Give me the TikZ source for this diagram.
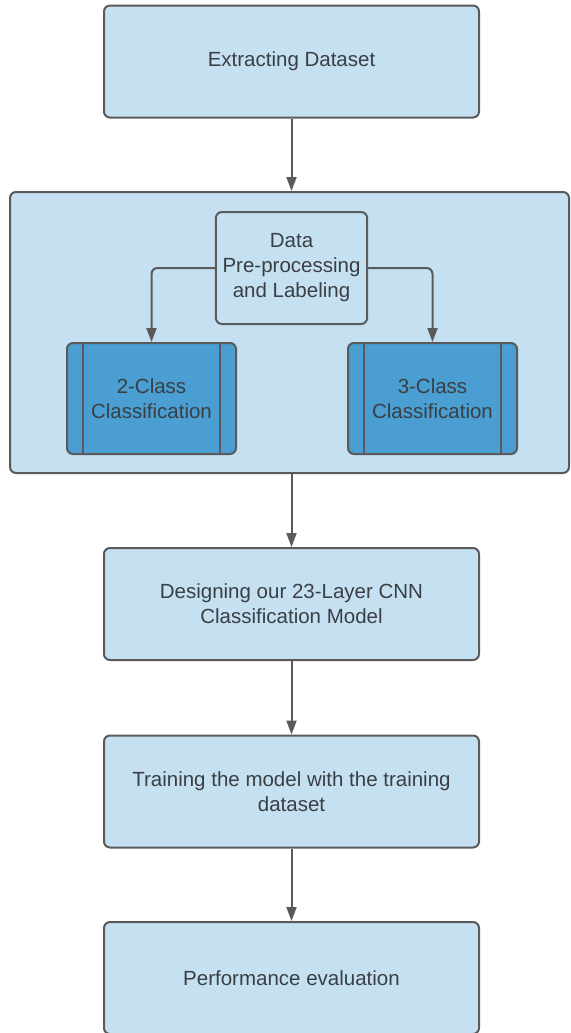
\documentclass[tikz,border=0pt]{standalone}
\usepackage{fontspec}
\setmainfont{Liberation Sans}
\usepackage{tikz}
\usetikzlibrary{arrows.meta,positioning,calc}
\usepackage{xcolor}

\definecolor{boxfill}{HTML}{C5E1F1}
\definecolor{procfill}{HTML}{4A9ED1}
\definecolor{edge}{HTML}{5A5A5A}
\definecolor{txt}{HTML}{3A3F44}

\begin{document}
\begin{tikzpicture}[x=0.5pt, y=-0.5pt,
        stage/.style={draw=edge, line width=1pt, fill=boxfill, rounded corners=3pt,
            minimum width=187.5pt, minimum height=56pt, align=center,
            text=txt, font=\fontsize{10.25}{12.5}\selectfont},
        proc/.style={stage, fill=procfill, minimum width=84.5pt, minimum height=55.5pt},
        flow/.style={draw=edge, line width=1pt, -{Triangle[length=7pt, width=5pt]}}]
        \useasboundingbox (0,0) rectangle (570,1033);

        % container for the pre-processing step
        \node[stage, minimum width=279.5pt, minimum height=140.5pt] (group) at (289.5, 332.5) {};

        \node[stage] (extract) at (291.5, 61.5) {Extracting Dataset};
        \node[stage, minimum width=74.5pt] (prep) at (291.5, 268) {Data\\Pre-processing\\and Labeling};
        \node[proc] (twocls) at (151.5, 398.5) {2-Class\\Classification};
        \node[proc] (threecls) at (432.5, 398.5) {3-Class\\Classification};
        \node[stage] (design) at (291.5, 604) {Designing our 23-Layer CNN\\Classification Model};
        \node[stage] (train) at (291.5, 791.5) {Training the model with the training\\dataset};
        \node[stage] (perf) at (291.5, 978) {Performance evaluation};

        % side bars of the process boxes
        \foreach \n in {twocls, threecls} {
            \draw[edge, line width=1pt] ([xshift=8.5pt]\n.north west) -- ([xshift=8.5pt]\n.south west);
            \draw[edge, line width=1pt] ([xshift=-8.5pt]\n.north east) -- ([xshift=-8.5pt]\n.south east);
        }

        \draw[flow] (extract) -- (extract |- group.north);
        \draw[flow, rounded corners=3pt] (prep.west) -| (twocls.north);
        \draw[flow, rounded corners=3pt] (prep.east) -| (threecls.north);
        \draw[flow] (design |- group.south) -- (design);
        \draw[flow] (design) -- (train);
        \draw[flow] (train) -- (perf);
    \end{tikzpicture}
\end{document}
